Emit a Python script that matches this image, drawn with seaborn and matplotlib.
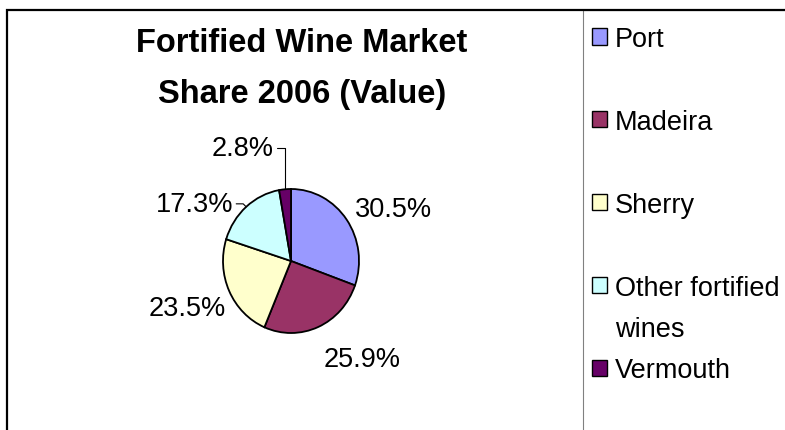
import textwrap

import numpy as np
import matplotlib
matplotlib.use('Agg')
import matplotlib.pyplot as plt
from matplotlib.patches import Patch, Rectangle
import seaborn as sns

# data
categories = ['Port', 'Madeira', 'Sherry', 'Other fortified wines', 'Vermouth']
shares = [30.5, 25.9, 23.5, 17.3, 2.8]
colors = ['#9999FF', '#993366', '#FFFFCC', '#CCFFFF', '#660066']
title = 'Fortified Wine Market\nShare 2006 (Value)'

sns.set_theme(style='white')
plt.rcParams['font.family'] = ['Liberation Sans', 'DejaVu Sans']
plt.rcParams['text.color'] = 'black'
narrow = ['Liberation Sans Narrow', 'Liberation Sans', 'DejaVu Sans']

W, H = 785, 431
fig = plt.figure(figsize=(W / 100, H / 100), dpi=100)
fig.patch.set_facecolor('white')

# pie axes (slightly taller than wide, like the original)
ax = fig.add_axes([223 / W, 97 / H, 136 / W, 144 / H])
wedges, _ = ax.pie(shares, colors=sns.color_palette(colors), startangle=90,
                   counterclock=False,
                   wedgeprops=dict(edgecolor='black', linewidth=1.3))
ax.set_aspect('auto')
ax.set_xlim(-1, 1)
ax.set_ylim(-1, 1)
ax.axis('off')

# label offsets from the wedge edge, in pixels
label_offsets = [(47, 11), (44, -32), (-42, -17), (-52, 3), (-42, 41)]
leader_angles = {3: 135, 4: 90}
for i, (w, v, (dx, dy)) in enumerate(zip(wedges, shares, label_offsets)):
    mid = np.deg2rad((w.theta1 + w.theta2) / 2)
    xy = (np.cos(mid), np.sin(mid))
    arrow = None
    if i in leader_angles:
        arrow = dict(arrowstyle='-', color='black', lw=0.8, shrinkA=0, shrinkB=0,
                     connectionstyle=f'angle,angleA=0,angleB={leader_angles[i]},rad=0')
    ax.annotate(f'{v:.1f}%', xy=xy, xytext=(dx, dy), textcoords='offset pixels',
                ha='center', va='center', fontsize=19.5, family=narrow,
                arrowprops=arrow, annotation_clip=False)

# legend: every entry takes two rows, long names wrap onto the second row
handles, labels = [], []
for name, c in zip(categories, colors):
    lines = textwrap.wrap(name, 15)
    lines += [''] * (2 - len(lines))
    for j, line in enumerate(lines):
        handles.append(Patch(facecolor=c, edgecolor='black', linewidth=1.0,
                             visible=(j == 0)))
        labels.append(line)
fig.legend(handles, labels, loc='upper left', bbox_to_anchor=(592 / W, 1 - 27 / H),
           bbox_transform=fig.transFigure, frameon=False, fontsize=19.5,
           handlelength=0.55, handleheight=0.55, handletextpad=0.3,
           labelspacing=0.57, borderpad=0, borderaxespad=0)

fig.text(302 / W, 1 - 28 / H, title, ha='center', va='top', fontsize=23.5,
         fontweight='bold', linespacing=1.85, multialignment='center')

# chart frame and legend box, both cut off at the right and bottom edges
fig.add_artist(Rectangle((583 / W, -0.1), 1, 1.1 - 11 / H, transform=fig.transFigure,
                         fill=False, edgecolor='#808080', linewidth=0.8))
fig.add_artist(Rectangle((7 / W, -0.1), 1.1, 1.1 - 10.7 / H, transform=fig.transFigure,
                         fill=False, edgecolor='black', linewidth=1.6))

fig.savefig('out.png', dpi=100)
